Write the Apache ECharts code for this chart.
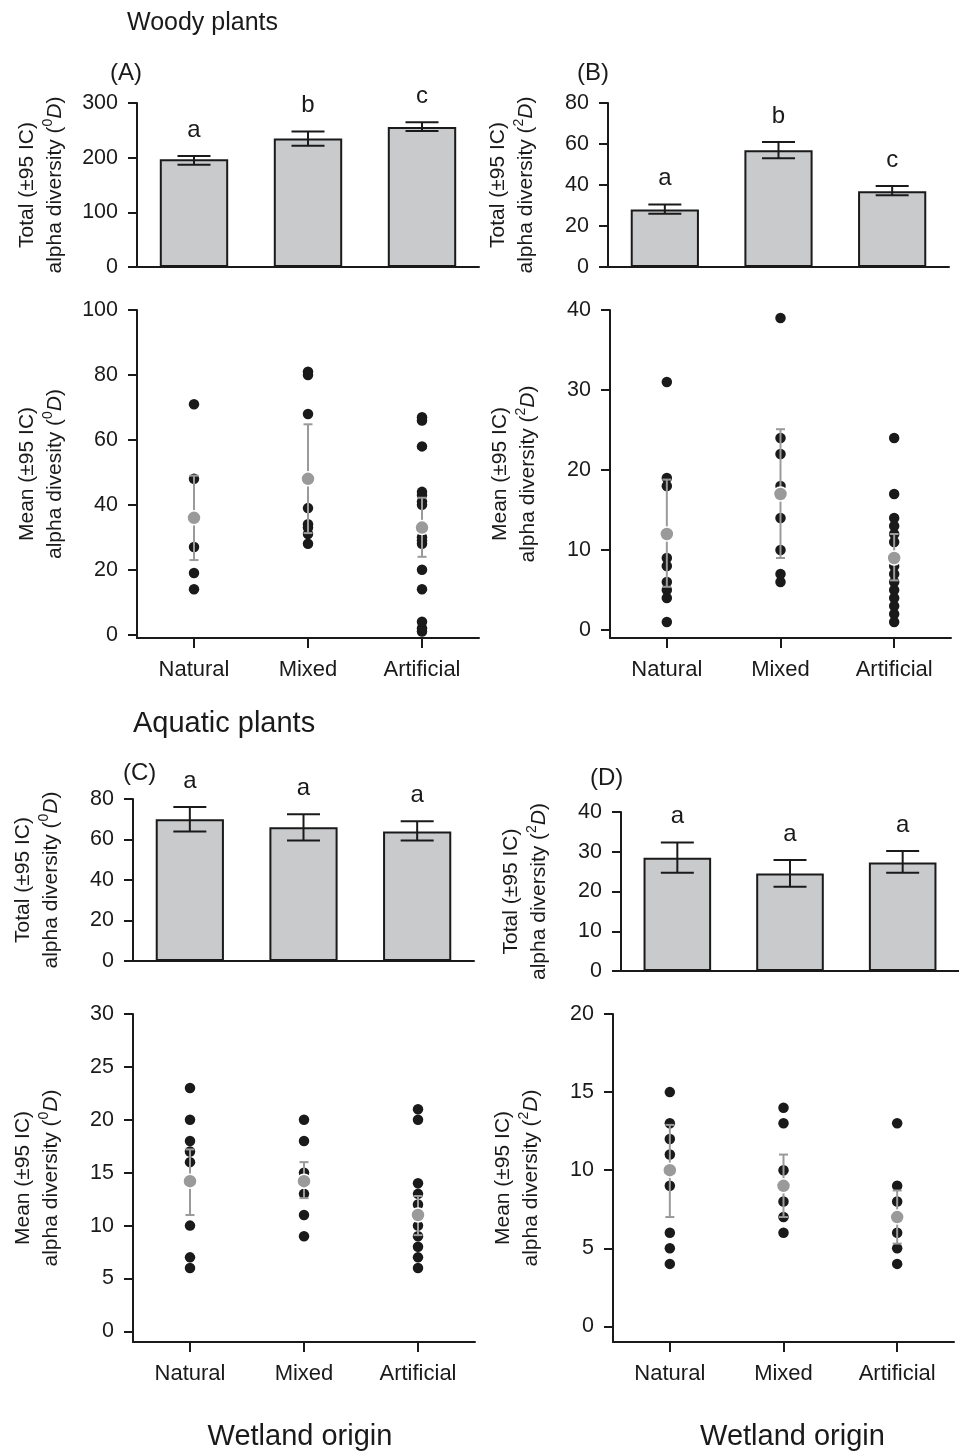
<!DOCTYPE html>
<html>
<head>
<meta charset="utf-8">
<title>Wetland origin alpha diversity</title>
<script src="https://cdn.jsdelivr.net/npm/echarts@6/dist/echarts.min.js"></script>
<style>
  html, body { margin: 0; padding: 0; background: #fff; }
  #chart { width: 959px; height: 1452px; }
</style>
</head>
<body>
<div id="chart"></div>
<script>
// categories on every x axis
const categories = ['Natural', 'Mixed', 'Artificial'];

// (A) woody plants, total 0D
const woodyTotal0 = [197, 235, 256];
const woodyTotal0Low = [187, 222, 249];
const woodyTotal0High = [203, 248, 265];
const woodyTotal0Letters = ['a', 'b', 'c'];
const woodyTotal0Ticks = [0, 100, 200, 300];

// (B) woody plants, total 2D
const woodyTotal2 = [28, 57, 37];
const woodyTotal2Low = [26, 53, 35];
const woodyTotal2High = [30.5, 61, 39.5];
const woodyTotal2Letters = ['a', 'b', 'c'];
const woodyTotal2Ticks = [0, 20, 40, 60, 80];

// (A) woody plants, per wetland 0D
const woodySites0 = [
  [71, 48, 27, 19, 14],
  [81, 80, 68, 39, 34, 33, 31, 28],
  [67, 66, 58, 44, 43, 41, 40, 30, 29, 28, 20, 14, 4, 2, 1]
];
const woodyMean0 = [36, 48, 33];
const woodyMean0Low = [23, 31.3, 24];
const woodyMean0High = [49, 64.8, 42.2];
const woodyMean0Ticks = [0, 20, 40, 60, 80, 100];

// (B) woody plants, per wetland 2D
const woodySites2 = [
  [31, 19, 18, 9, 8, 6, 5, 4, 1],
  [39, 24, 22, 18, 14, 10, 7, 6],
  [24, 17, 14, 13, 12, 11, 8, 7, 6, 5, 4, 3, 2, 1]
];
const woodyMean2 = [12, 17, 9];
const woodyMean2Low = [5.4, 9, 6.2];
const woodyMean2High = [18.8, 25.1, 12];
const woodyMean2Ticks = [0, 10, 20, 30, 40];

// (C) aquatic plants, total 0D
const aquaticTotal0 = [70, 66, 64];
const aquaticTotal0Low = [64, 59.5, 59.5];
const aquaticTotal0High = [76, 72.5, 69];
const aquaticTotal0Letters = ['a', 'a', 'a'];
const aquaticTotal0Ticks = [0, 20, 40, 60, 80];

// (D) aquatic plants, total 2D
const aquaticTotal2 = [28.5, 24.5, 27.3];
const aquaticTotal2Low = [24.7, 21.2, 24.7];
const aquaticTotal2High = [32.3, 27.9, 30.2];
const aquaticTotal2Letters = ['a', 'a', 'a'];
const aquaticTotal2Ticks = [0, 10, 20, 30, 40];

// (C) aquatic plants, per wetland 0D
const aquaticSites0 = [
  [23, 20, 18, 17, 16, 10, 7, 6],
  [20, 18, 15, 13, 11, 9],
  [21, 20, 14, 13, 12, 10, 9, 8, 7, 6]
];
const aquaticMean0 = [14.2, 14.2, 11];
const aquaticMean0Low = [11, 12.6, 9.1];
const aquaticMean0High = [17.2, 16, 12.8];
const aquaticMean0Ticks = [0, 5, 10, 15, 20, 25, 30];

// (D) aquatic plants, per wetland 2D
const aquaticSites2 = [
  [15, 13, 12, 11, 9, 6, 5, 4],
  [14, 13, 10, 8, 7, 6],
  [13, 9, 8, 6, 5, 4]
];
const aquaticMean2 = [10, 9, 7];
const aquaticMean2Low = [7, 7, 5.3];
const aquaticMean2High = [12.9, 11, 8.7];
const aquaticMean2Ticks = [0, 5, 10, 15, 20];

const FONT = '"Liberation Sans", Arial, Helvetica, sans-serif';
const INK = '#1a1a1a';

const totalName = q => 'Total (±95 IC)\nalpha diversity ({sup|' + q + '}{it|D})';
const meanName = (q, word) => 'Mean (±95 IC)\nalpha ' + word + ' ({sup|' + q + '}{it|D})';

// grids: position of each panel on the page
const panels = [
  { kind: 'bar', grid: { left: 137, top: 103, width: 342, height: 164 }, name: totalName(0),
    values: woodyTotal0, low: woodyTotal0Low, high: woodyTotal0High, letters: woodyTotal0Letters, ticks: woodyTotal0Ticks },
  { kind: 'bar', grid: { left: 608, top: 103, width: 341, height: 164 }, name: totalName(2),
    values: woodyTotal2, low: woodyTotal2Low, high: woodyTotal2High, letters: woodyTotal2Letters, ticks: woodyTotal2Ticks },
  { kind: 'dot', grid: { left: 137, top: 310, width: 342, height: 328 }, name: meanName(0, 'divesity'),
    sites: woodySites0, mean: woodyMean0, low: woodyMean0Low, high: woodyMean0High, ticks: woodyMean0Ticks },
  { kind: 'dot', grid: { left: 610, top: 310, width: 341, height: 328 }, name: meanName(2, 'diversity'),
    sites: woodySites2, mean: woodyMean2, low: woodyMean2Low, high: woodyMean2High, ticks: woodyMean2Ticks },
  { kind: 'bar', grid: { left: 133, top: 799, width: 341, height: 162 }, name: totalName(0),
    values: aquaticTotal0, low: aquaticTotal0Low, high: aquaticTotal0High, letters: aquaticTotal0Letters, ticks: aquaticTotal0Ticks },
  { kind: 'bar', grid: { left: 621, top: 812, width: 341, height: 159 }, name: totalName(2),
    values: aquaticTotal2, low: aquaticTotal2Low, high: aquaticTotal2High, letters: aquaticTotal2Letters, ticks: aquaticTotal2Ticks },
  { kind: 'dot', grid: { left: 133, top: 1014, width: 342, height: 328 }, name: meanName(0, 'diversity'),
    sites: aquaticSites0, mean: aquaticMean0, low: aquaticMean0Low, high: aquaticMean0High, ticks: aquaticMean0Ticks,
    xName: 'Wetland origin', xNamePad: [0, 8, 0, 0] },
  { kind: 'dot', grid: { left: 613, top: 1014, width: 341, height: 328 }, name: meanName(2, 'diversity'),
    sites: aquaticSites2, mean: aquaticMean2, low: aquaticMean2Low, high: aquaticMean2High, ticks: aquaticMean2Ticks,
    xName: 'Wetland origin', xNamePad: [0, 0, 0, 18] }
];

// vertical bar with caps, low..high at each category
function errorBars(idx, low, high, color, cap, z) {
  return {
    type: 'custom',
    xAxisIndex: idx,
    yAxisIndex: idx,
    z: z,
    silent: true,
    data: low.map((l, i) => [i, l, high[i]]),
    renderItem: (params, api) => {
      const lo = api.coord([api.value(0), api.value(1)]);
      const hi = api.coord([api.value(0), api.value(2)]);
      const h = cap / 2;
      const style = { stroke: color, lineWidth: 2 };
      return {
        type: 'group',
        children: [
          { type: 'line', shape: { x1: lo[0], y1: lo[1], x2: hi[0], y2: hi[1] }, style: style },
          { type: 'line', shape: { x1: lo[0] - h, y1: lo[1], x2: lo[0] + h, y2: lo[1] }, style: style },
          { type: 'line', shape: { x1: hi[0] - h, y1: hi[1], x2: hi[0] + h, y2: hi[1] }, style: style }
        ]
      };
    }
  };
}

const grids = [];
const xAxes = [];
const yAxes = [];
const series = [];

panels.forEach((p, idx) => {
  grids.push(p.grid);
  const isBar = p.kind === 'bar';
  const top = p.ticks[p.ticks.length - 1];

  xAxes.push({
    type: 'category',
    gridIndex: idx,
    data: categories,
    axisLine: { onZero: false, lineStyle: { color: INK, width: 2 } },
    axisTick: { show: !isBar, alignWithLabel: true, length: 10, lineStyle: { color: INK, width: 2 } },
    axisLabel: { show: !isBar, fontSize: 22, color: INK, fontFamily: FONT, margin: 21 },
    splitLine: { show: false },
    name: p.xName || '',
    nameLocation: 'middle',
    nameGap: 80,
    nameTextStyle: { fontSize: 29, color: INK, fontFamily: FONT, padding: p.xNamePad || 0 }
  });

  const yAxis = {
    type: 'value',
    gridIndex: idx,
    axisLine: { show: true, lineStyle: { color: INK, width: 2 } },
    axisTick: { show: true, length: 9, lineStyle: { color: INK, width: 2 } },
    axisLabel: { fontSize: 21.5, color: INK, fontFamily: FONT, margin: 19 },
    splitLine: { show: false },
    name: p.name,
    nameLocation: 'middle',
    nameGap: 68,
    nameTextStyle: {
      fontSize: 21, lineHeight: 28, color: INK, fontFamily: FONT,
      rich: {
        sup: { fontSize: 14, lineHeight: 17, verticalAlign: 'top', color: INK, fontFamily: FONT },
        it: { fontSize: 21, fontStyle: 'italic', color: INK, fontFamily: FONT }
      }
    }
  };
  if (isBar) {
    yAxis.min = 0;
    yAxis.max = top;
    yAxis.interval = p.ticks[1] - p.ticks[0];
  } else {
    // the x axis sits one unit below zero
    yAxis.min = -1;
    yAxis.max = top;
    yAxis.axisLabel.customValues = p.ticks;
    yAxis.axisTick.customValues = p.ticks;
  }
  yAxes.push(yAxis);

  if (isBar) {
    series.push({
      type: 'bar',
      xAxisIndex: idx,
      yAxisIndex: idx,
      data: p.values,
      barWidth: '60%',
      itemStyle: { color: '#c9cacc', borderColor: INK, borderWidth: 2 },
      z: 2
    });
    series.push(errorBars(idx, p.low, p.high, INK, 33, 3));
    series.push({
      type: 'scatter',
      xAxisIndex: idx,
      yAxisIndex: idx,
      symbolSize: 0,
      data: p.high.map((v, i) => [i, v]),
      itemStyle: { opacity: 1 },
      label: {
        show: true,
        position: 'top',
        distance: 14,
        fontSize: 24,
        color: INK,
        fontFamily: FONT,
        formatter: params => p.letters[params.dataIndex]
      },
      z: 4
    });
  } else {
    const points = [];
    p.sites.forEach((vals, i) => vals.forEach(v => points.push([i, v])));
    series.push({
      type: 'scatter',
      xAxisIndex: idx,
      yAxisIndex: idx,
      data: points,
      symbolSize: 10.5,
      itemStyle: { color: INK, opacity: 1 },
      z: 2
    });
    series.push(errorBars(idx, p.low, p.high, '#9a9a9a', 9, 3));
    series.push({
      type: 'scatter',
      xAxisIndex: idx,
      yAxisIndex: idx,
      data: p.mean.map((v, i) => [i, v]),
      symbolSize: 14,
      itemStyle: { color: '#9a9a9a', borderColor: '#fff', borderWidth: 1.5, opacity: 1 },
      z: 4
    });
  }
});

const titleStyle = (size) => ({ fontSize: size, fontWeight: 'normal', color: INK, fontFamily: FONT });

const option = {
  animation: false,
  backgroundColor: '#fff',
  title: [
    { text: 'Woody plants', left: 127, top: 11, padding: 0, textStyle: titleStyle(25) },
    { text: '(A)', left: 110, top: 61, padding: 0, textStyle: titleStyle(24) },
    { text: '(B)', left: 577, top: 61, padding: 0, textStyle: titleStyle(24) },
    { text: 'Aquatic plants', left: 133, top: 709, padding: 0, textStyle: titleStyle(29) },
    { text: '(C)', left: 123, top: 761, padding: 0, textStyle: titleStyle(24) },
    { text: '(D)', left: 590, top: 766, padding: 0, textStyle: titleStyle(24) }
  ],
  grid: grids,
  xAxis: xAxes,
  yAxis: yAxes,
  series: series
};

const chart = echarts.init(document.getElementById('chart'), null, { renderer: 'canvas' });
chart.setOption(option);
</script>
</body>
</html>
